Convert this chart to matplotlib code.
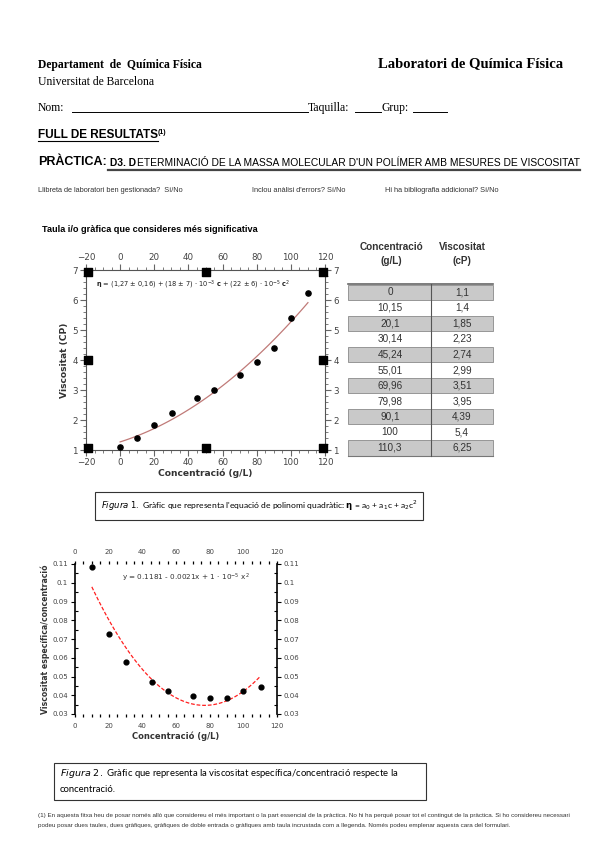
import matplotlib
matplotlib.use("Agg")
import matplotlib.pyplot as plt
from matplotlib.patches import Rectangle
from matplotlib.ticker import MultipleLocator
import numpy as np

# data
conc = [0, 10.15, 20.1, 30.14, 45.24, 55.01, 69.96, 79.98, 90.1, 100, 110.3]
visc = [1.1, 1.4, 1.85, 2.23, 2.74, 2.99, 3.51, 3.95, 4.39, 5.4, 6.25]
conc_lbl = ["0", "10,15", "20,1", "30,14", "45,24", "55,01", "69,96", "79,98", "90,1", "100", "110,3"]
visc_lbl = ["1,1", "1,4", "1,85", "2,23", "2,74", "2,99", "3,51", "3,95", "4,39", "5,4", "6,25"]
fit1 = [1.27, 0.018, 0.00022]
sq_x = [-19, 50, 119, -19, 119, -19, 50, 119]
sq_y = [1.08, 1.08, 1.08, 4, 4, 6.92, 6.92, 6.92]

c2 = [10.1, 20.2, 30.3, 45.5, 55, 70.3, 80, 90.3, 100, 110.3]
vsp = [0.1085, 0.0725, 0.058, 0.0472, 0.0425, 0.0394, 0.0388, 0.0383, 0.0425, 0.0446]
fit2 = [0.1181, -0.00217, 1.41e-5]

W, H = 599, 848
fig = plt.figure(figsize=(W / 100, H / 100), dpi=100)
fig.patch.set_facecolor("white")


def fx(px):
    return px / W


def fy(py):
    return 1 - py / H


def txt(x, y, s, **kw):
    kw.setdefault("va", "center")
    return fig.text(fx(x), fy(y), s, **kw)


def hline(x0, x1, y, lw=0.8, color="black"):
    fig.add_artist(plt.Line2D([fx(x0), fx(x1)], [fy(y), fy(y)], lw=lw, color=color))


serif = "Liberation Serif"
sans = "Liberation Sans"
cal = "Lato"

# header
txt(38, 65, "Departament  de  Química Física", family=serif, fontsize=8.4, weight="bold")
txt(378, 64, "Laboratori de Química Física", family=serif, fontsize=10.5, weight="bold")
txt(38, 82, "Universitat de Barcelona", family=serif, fontsize=8.4)
txt(38, 108, "Nom:", family=serif, fontsize=8.4)
hline(72, 308, 112, lw=0.7)
txt(308, 108, "Taquilla:", family=serif, fontsize=8.4)
hline(355, 381, 112, lw=0.7)
txt(382, 108, "Grup:", family=serif, fontsize=8.4)
hline(413, 447, 112, lw=0.7)

txt(38, 135, "FULL DE RESULTATS", family=sans, fontsize=8.5, weight="bold")
hline(38, 158, 141, lw=0.8)
txt(158, 132, "(1)", family=sans, fontsize=5, weight="bold")
txt(38, 162, "PRÀCTICA:", family=sans, fontsize=9, weight="bold")
t_bold = txt(110, 163, "D3. D", family=sans, fontsize=7.4, weight="bold")
rend = fig.canvas.get_renderer()
x_end = t_bold.get_window_extent(rend).x1
txt(x_end + 1, 163, "ETERMINACIÓ DE LA MASSA MOLECULAR D'UN POLÍMER AMB MESURES DE VISCOSITAT",
    family=sans, fontsize=7.4)
hline(108, 580, 170, lw=1.6, color="#444444")

txt(38, 191, "Llibreta de laboratori ben gestionada?  Sí/No", family=sans, fontsize=5.3, color="#333333")
txt(252, 191, "Inclou anàlisi d'errors? Sí/No", family=sans, fontsize=5.3, color="#333333")
txt(385, 191, "Hi ha bibliografia addicional? Sí/No", family=sans, fontsize=5.3, color="#333333")

txt(42, 229, "Taula i/o gràfica que consideres més significativa", family=sans, fontsize=6.6, weight="bold")

# figure 1 chart
ax1 = fig.add_axes([fx(86), fy(450), fx(325) - fx(86), fy(270) - fy(450)])
ax1.set_xlim(-20, 120)
ax1.set_ylim(1, 7)
xx = np.linspace(0, 110, 100)
ax1.plot(xx, fit1[0] + fit1[1] * xx + fit1[2] * xx ** 2, color="#c07a78", lw=0.9)
ax1.scatter(conc, visc, s=14, color="black", zorder=3)
ax1.scatter(sq_x, sq_y, s=38, marker="s", color="black", zorder=3, clip_on=False)
ax1.xaxis.set_major_locator(MultipleLocator(20))
ax1.xaxis.set_minor_locator(MultipleLocator(5))
ax1.yaxis.set_major_locator(MultipleLocator(1))
ax1.yaxis.set_minor_locator(MultipleLocator(0.2))
ax1.tick_params(which="both", top=True, right=True, labeltop=True, labelright=True,
                direction="out", color="#666666", labelcolor="#444444", labelsize=6.3, pad=2)
ax1.tick_params(which="major", length=4, width=0.8)
ax1.tick_params(which="minor", length=2, width=0.6)
for sp in ax1.spines.values():
    sp.set_color("#555555")
    sp.set_linewidth(0.8)
ax1.set_xlabel("Concentració (g/L)", fontsize=6.6, weight="bold", color="#333333", labelpad=1)
ax1.set_ylabel("Viscositat (CP)", fontsize=6.6, weight="bold", color="#333333", labelpad=2)
ax1.text(-14, 6.5, r"$\mathbf{\eta}$ = (1,27 ± 0,16) + (18 ± 7) · 10$^{-3}$ $\mathbf{c}$ + (22 ± 6) · 10$^{-5}$ $\mathbf{c}^2$",
         fontsize=4.8, color="#222222", va="center")

# table
ax_t = fig.add_axes([fx(340), fy(460), fx(500) - fx(340), fy(238) - fy(460)])
ax_t.set_xlim(340, 500)
ax_t.set_ylim(460, 238)
ax_t.axis("off")
hdr = dict(ha="center", va="center", fontsize=7.2, weight="bold", family=sans, color="#333333")
ax_t.text(391, 247, "Concentració", **hdr)
ax_t.text(391, 261, "(g/L)", **hdr)
ax_t.text(462, 247, "Viscositat", **hdr)
ax_t.text(462, 261, "(cP)", **hdr)
top, rh = 284.5, 15.55
for i, (a, b) in enumerate(zip(conc_lbl, visc_lbl)):
    y0 = top + i * rh
    if i % 2 == 0:
        ax_t.add_patch(Rectangle((348, y0), 145, rh, facecolor="#c9c9c9", edgecolor="#8a8a8a", lw=0.6))
    ax_t.text(390, y0 + rh / 2, a, ha="center", va="center", fontsize=7.2, family=sans, color="#333333")
    ax_t.text(462, y0 + rh / 2, b, ha="center", va="center", fontsize=7.2, family=sans, color="#333333")
ax_t.plot([348, 493], [top, top], color="#666666", lw=1.2)
ax_t.plot([348, 493], [top + 11 * rh, top + 11 * rh], color="#777777", lw=0.8)
ax_t.plot([431, 431], [top, top + 11 * rh], color="#555555", lw=0.8)

# caption 1
fig.add_artist(Rectangle((fx(95), fy(520)), fx(423) - fx(95), fy(492) - fy(520),
                         transform=fig.transFigure, fill=False, lw=0.8, edgecolor="#333333"))
txt(101, 506, r"$\it{Figura\ 1.}$ Gràfic que representa l'equació de polinomi quadràtic: "
    r"$\mathbf{\eta}$ = a$_0$ + a$_1$c + a$_2$c$^2$", family=cal, fontsize=6.1)

# figure 2 chart
ax2 = fig.add_axes([fx(75), fy(714), fx(277) - fx(75), fy(564) - fy(714)])
ax2.set_xlim(0, 120)
ax2.set_ylim(0.03, 0.11)
xx2 = np.linspace(10, 110, 100)
ax2.plot(xx2, fit2[0] + fit2[1] * xx2 + fit2[2] * xx2 ** 2, color="#ff2020", lw=0.9, ls=(0, (3, 1.5)))
ax2.scatter(c2, vsp, s=12, color="black", zorder=3)
for side in ["top", "bottom"]:
    ax2.spines[side].set_visible(False)
for side in ["left", "right"]:
    ax2.spines[side].set_linewidth(1.2)
ax2.xaxis.set_major_locator(MultipleLocator(20))
ax2.xaxis.set_minor_locator(MultipleLocator(5))
ax2.yaxis.set_major_locator(MultipleLocator(0.01))
ax2.yaxis.set_minor_locator(MultipleLocator(0.005))
ax2.tick_params(which="both", top=True, right=True, labeltop=True, labelright=True,
                labelsize=5, labelcolor="#444444", pad=2)
ax2.tick_params(axis="x", which="both", direction="out", length=2.5, width=0.9, pad=4)
ax2.tick_params(axis="y", which="major", direction="out", length=3, width=0.8)
ax2.tick_params(axis="y", which="minor", direction="in", length=2.5, width=0.8)
ax2.set_yticks(np.arange(0.03, 0.111, 0.01))
ax2.set_yticklabels(["0.03", "0.04", "0.05", "0.06", "0.07", "0.08", "0.09", "0.1", "0.11"])
ax2.set_xlabel("Concentració (g/L)", fontsize=6, weight="bold", color="#333333", labelpad=2)
ax2.set_ylabel("Viscositat específica/concentració", fontsize=5.6, weight="bold", color="#333333", labelpad=2)
ax2.text(28, 0.1025, r"y = 0.1181 - 0.0021x + 1 · 10$^{-5}$ x$^2$", fontsize=5.2, color="#333333", va="center")

# caption 2
fig.add_artist(Rectangle((fx(54), fy(800)), fx(426) - fx(54), fy(763) - fy(800),
                         transform=fig.transFigure, fill=False, lw=0.8, edgecolor="#333333"))
txt(60, 774, r"$\it{Figura\ 2.}$ Gràfic que representa la viscositat específica/concentració respecte la",
    family=cal, fontsize=6.8)
txt(60, 790, "concentració.", family=cal, fontsize=6.8)

# footnote
txt(38, 815, "(1) En aquesta fitxa heu de posar només allò que considereu el més important o la part essencial de la pràctica. "
    "No hi ha perquè posar tot el contingut de la pràctica. Si ho considereu necessari",
    family=sans, fontsize=4.5, color="#333333")
txt(38, 826, "podeu posar dues taules, dues gràfiques, gràfiques de doble entrada o gràfiques amb taula incrustada com a llegenda. "
    "Només podeu emplenar aquesta cara del formulari.",
    family=sans, fontsize=4.5, color="#333333")

fig.savefig("out.png", dpi=100)
